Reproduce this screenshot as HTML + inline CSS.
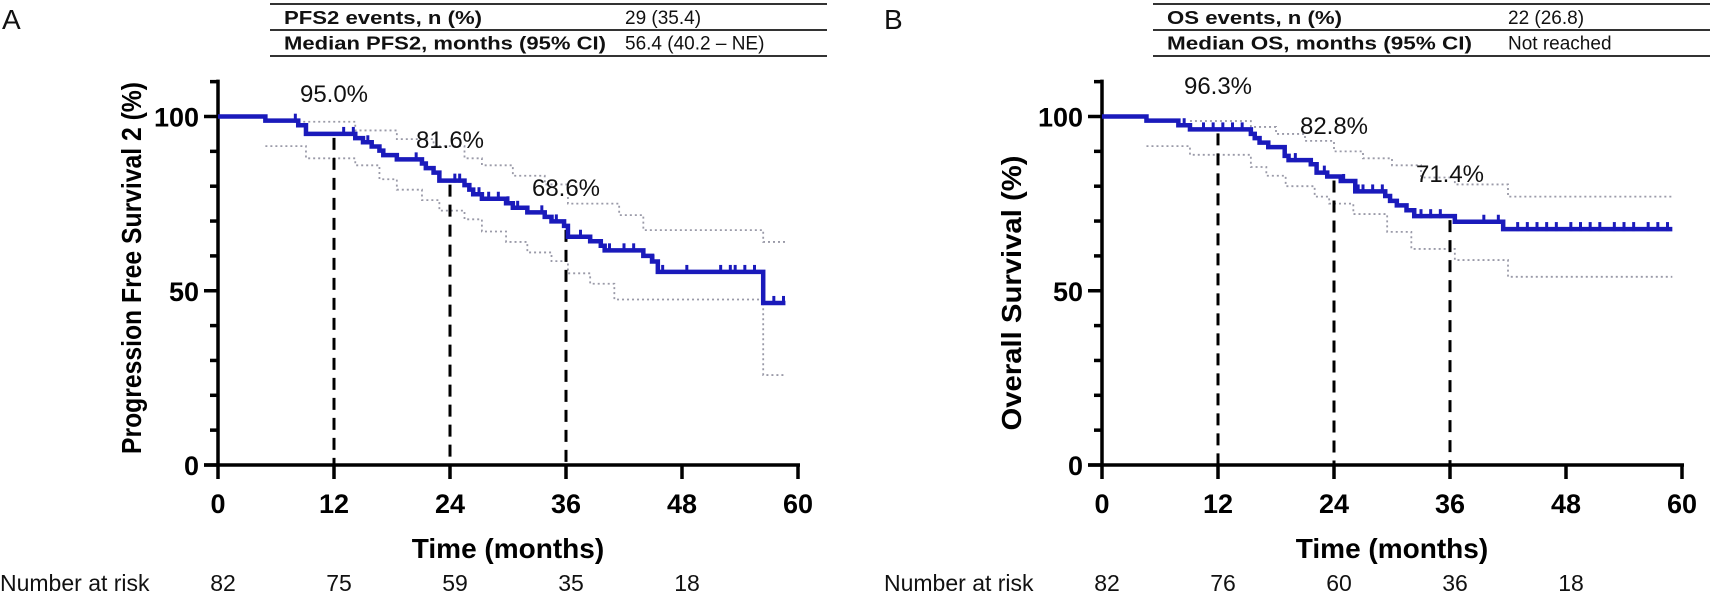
<!DOCTYPE html>
<html><head><meta charset="utf-8">
<style>
html,body{margin:0;padding:0;background:#fff;}
svg{display:block;font-family:"Liberation Sans",Arial,sans-serif;}
</style></head>
<body>
<svg id="chart" width="1713" height="596" viewBox="0 0 1713 596" xmlns="http://www.w3.org/2000/svg"></svg>
<script>
// Panel A data (PFS2)
const stepsA_t = [4.9,8.3,9.1,14.2,15,15.9,16.7,17.1,18.5,21.1,21.5,22.3,22.9,25.5,26.0,26.4,27.3,29.8,30.5,32.0,33.8,34.5,35.8,36.2,38.5,39.6,40.0,44.0,44.9,45.5,56.4];
const stepsA_s = [98.8,97.5,95.0,93.8,92.6,91.4,90.2,88.9,87.7,86.5,85.2,83.9,81.6,80.3,79.0,77.7,76.4,75.1,73.8,72.5,71.2,69.9,68.6,65.5,64.2,62.9,61.6,60.0,58.4,55.4,46.5];
const upperA_t = [8.3,14.2,18.5,22.3,25.5,27.3,30.5,33.8,36.2,41.5,44.0,56.4];
const upperA_s = [98.5,96.0,93.5,91.5,88.0,86.0,83.0,80.5,75.0,71.7,67.4,64.0];
const lowerA_t = [4.9,9.1,14.2,16.7,18.5,21.1,22.9,25.5,27.3,29.8,32.0,34.5,36.2,38.5,41.0,56.4];
const lowerA_s = [91.5,88.0,86.0,82.0,79.0,76.0,73.0,70.5,67.0,64.0,61.0,58.5,55.0,52.0,47.5,25.8];
const censorA = [8.0,13.0,14.0,15.5,20.5,24.5,25.0,27.0,28.0,29.0,30.0,31.0,33.5,35.0,37.5,40.5,42.0,43.0,45.0,46.0,48.5,52.0,53.0,53.5,54.5,55.5,57.5,58.5];
const landA_t = [12,24,36];
const landA_s = [95.0,81.6,68.6];
const riskA = [82,75,59,35,18];

// Panel B data (OS)
const stepsB_t = [4.6,7.9,9.1,15.4,15.8,16.3,17.2,18.9,19.3,21.6,22.2,23.3,24.7,26.2,29.3,29.8,30.5,31.5,32.3,36.5,41.5];
const stepsB_s = [98.8,97.5,96.3,95.0,93.8,92.5,91.2,88.7,87.5,86.3,83.9,82.8,81.5,78.5,77.2,75.8,74.5,73.1,71.4,69.8,67.7];
const upperB_t = [9.1,15.4,18.0,21.0,24.0,27.0,30.0,33.0,36.5,42.0];
const upperB_s = [98.7,97.0,95.0,93.0,90.0,88.0,86.0,82.5,80.5,77.0];
const lowerB_t = [4.6,9.1,15.4,17.0,19.0,22.0,23.5,26.0,29.5,32.0,36.5,42.0];
const lowerB_s = [91.5,89.0,85.5,83.0,80.0,77.0,75.0,72.0,66.9,62.0,58.8,54.0];
const censorB = [8.5,10.5,11.5,12.5,13.5,14.5,20.0,23.0,25.0,26.5,27.0,28.0,29.0,33.0,34.0,35.0,39.5,41.0,43.0,44.0,45.0,46.0,47.0,48.5,49.5,50.5,51.5,53.0,54.0,55.0,56.5,57.5,58.5];
const landB_t = [12,24,36];
const landB_s = [96.3,82.8,71.4];
const riskB = [82,76,60,36,18];

const xTicks = [0,12,24,36,48,60];
const yTicks = [0,50,100];

const svg = document.getElementById('chart');
const NS = 'http://www.w3.org/2000/svg';
function mk(tag, attrs, parent){
  const e = document.createElementNS(NS, tag);
  for (const k in attrs) e.setAttribute(k, attrs[k]);
  (parent||svg).appendChild(e);
  return e;
}
function txt(str, attrs, parent){ const e = mk('text', attrs, parent); e.textContent = str; return e; }

function panel(cfg){
  const g = mk('g', {});
  
  
  const X0 = cfg.x0, XW = 580, Y0 = 465, YH = 348.5;
  const xs = t => X0 + t / 60 * XW;
  const ys = v => Y0 - v / 100 * YH;

  const L = txt(cfg.letter, {x: cfg.letterX, y: 29, 'font-size': 28, fill:'#111'}, g);
  
  

  const tb = mk('g', {}, g);
  
  
  const tx0 = cfg.tableX, tx1 = cfg.tableX + 557;
  [4, 30, 56].forEach(y => mk('line', {x1:tx0, x2:tx1, y1:y, y2:y, stroke:'#333', 'stroke-width':2}, tb));
  cfg.rows.forEach((r, i) => {
    const y = 24 + i * 25.5;
    const a = txt(r[0], {x: tx0 + 14, y: y, 'font-size': 18, 'font-weight':'bold', fill:'#111', textLength: cfg.labLen[i], lengthAdjust:'spacingAndGlyphs'}, tb);
    
    
    const b = txt(r[1], {x: tx0 + 355, y: y, 'font-size': 19, fill:'#111'}, tb);
    
    
  });

  const yt = txt(cfg.ytitle, {x:0, y:0, 'font-size':28, 'font-weight':'bold', 'text-anchor':'middle', fill:'#000',
     textLength: cfg.ytLen, lengthAdjust:'spacingAndGlyphs',
     transform:`translate(${cfg.ytitleX},${cfg.ytitleY}) rotate(-90)`}, g);
  
  

  const ax = mk('g', {}, g);
  
  
  mk('line', {x1:X0, x2:X0, y1:ys(110)-2, y2:Y0, stroke:'#000', 'stroke-width':3.5}, ax);
  mk('line', {x1:X0-14, x2:X0+XW+2, y1:Y0, y2:Y0, stroke:'#000', 'stroke-width':3.5}, ax);
  for (let v = 0; v <= 110; v += 10){
    const major = v % 50 === 0;
    mk('line', {x1:X0 - (major?14:8), x2:X0, y1:ys(v), y2:ys(v), stroke:'#000', 'stroke-width':3.5}, ax);
  }
  yTicks.forEach(v => {
    const t = txt(String(v), {x:X0-19, y:ys(v)+10, 'font-size':27, 'font-weight':'bold', 'text-anchor':'end'}, ax);
    
    
  });
  xTicks.forEach(v => {
    mk('line', {x1:xs(v), x2:xs(v), y1:Y0, y2:Y0+14, stroke:'#000', 'stroke-width':3.5}, ax);
    const t = txt(String(v), {x:xs(v), y:513, 'font-size':27, 'font-weight':'bold', 'text-anchor':'middle'}, ax);
    
    
  });
  const xt = txt('Time (months)', {x:xs(30), y:558, 'font-size':28, 'font-weight':'bold', 'text-anchor':'middle'}, g);
  
  

  function stepPath(ts, ss, start, end){
    let d = '';
    let cur = start;
    if (start !== null) d = `M${xs(0)},${ys(start)}`;
    ts.forEach((t, i) => {
      if (d === '') d = `M${xs(t)},${ys(ss[i])}`;
      else d += ` L${xs(t)},${ys(cur)} L${xs(t)},${ys(ss[i])}`;
      cur = ss[i];
    });
    d += ` L${xs(end)},${ys(cur)}`;
    return d;
  }
  const up = mk('path', {d: stepPath(cfg.ut, cfg.us, null, cfg.end), fill:'none', stroke:'#9a9aa8', 'stroke-width':1.8, 'stroke-dasharray':'2,3'}, g);
  
  
  const lo = mk('path', {d: stepPath(cfg.lt, cfg.ls, null, cfg.end), fill:'none', stroke:'#9a9aa8', 'stroke-width':1.8, 'stroke-dasharray':'2,3'}, g);
  
  

  cfg.lmT.forEach((t, i) => {
    const l = mk('line', {x1:xs(t), x2:xs(t), y1:ys(cfg.lmS[i])+4, y2:Y0, stroke:'#000', 'stroke-width':3, 'stroke-dasharray':'12,8'}, g);
    
    
    const lab = txt(cfg.lmS[i].toFixed(1) + '%', {x:xs(t), y:cfg.lmY[i]+9, 'font-size':24, 'text-anchor':'middle', fill:'#111'}, g);
    
    
  });

  const km = mk('path', {d: stepPath(cfg.st, cfg.ss, 100, cfg.end), fill:'none', stroke:'#1a1abb', 'stroke-width':4.5}, g);
  
  
  const sAt = t => { let s = 100; cfg.st.forEach((tt,i)=>{ if (tt <= t) s = cfg.ss[i]; }); return s; };
  cfg.cens.forEach(t => {
    const c = mk('line', {x1:xs(t), x2:xs(t), y1:ys(sAt(t))-7, y2:ys(sAt(t))+2, stroke:'#1a1abb', 'stroke-width':3}, g);
    
    
  });

  const nr = txt('Number at risk', {x:cfg.riskLabelX, y:591, 'font-size':23, fill:'#111'}, g);
  
  
  cfg.risk.forEach((n, i) => {
    const r = txt(String(n), {x:xs(i*12)+5, y:591, 'font-size':23, 'text-anchor':'middle', fill:'#111'}, g);
    
    
  });
}

panel({id:'pfs2', letter:'A', letterX:2, x0:218, tableX:270, ytitle:'Progression Free Survival 2 (%)', ytitleX:141, ytitleY:268, ytLen:372,
  rows:[['PFS2 events, n (%)','29 (35.4)'],['Median PFS2, months (95% CI)','56.4 (40.2 – NE)']], labLen:[198,322],
  st:stepsA_t, ss:stepsA_s, ut:upperA_t, us:upperA_s, lt:lowerA_t, ls:lowerA_s, cens:censorA,
  lmT:landA_t, lmS:landA_s, lmY:[93,139,187], risk:riskA, riskLabelX:0, end:58.7});
panel({id:'os', letter:'B', letterX:884, x0:1102, tableX:1153, ytitle:'Overall Survival (%)', ytitleX:1021, ytitleY:293, ytLen:275,
  rows:[['OS events, n (%)','22 (26.8)'],['Median OS, months (95% CI)','Not reached']], labLen:[175,305],
  st:stepsB_t, ss:stepsB_s, ut:upperB_t, us:upperB_s, lt:lowerB_t, ls:lowerB_s, cens:censorB,
  lmT:landB_t, lmS:landB_s, lmY:[85,125,173], risk:riskB, riskLabelX:884, end:59});
</script>
</body></html>
